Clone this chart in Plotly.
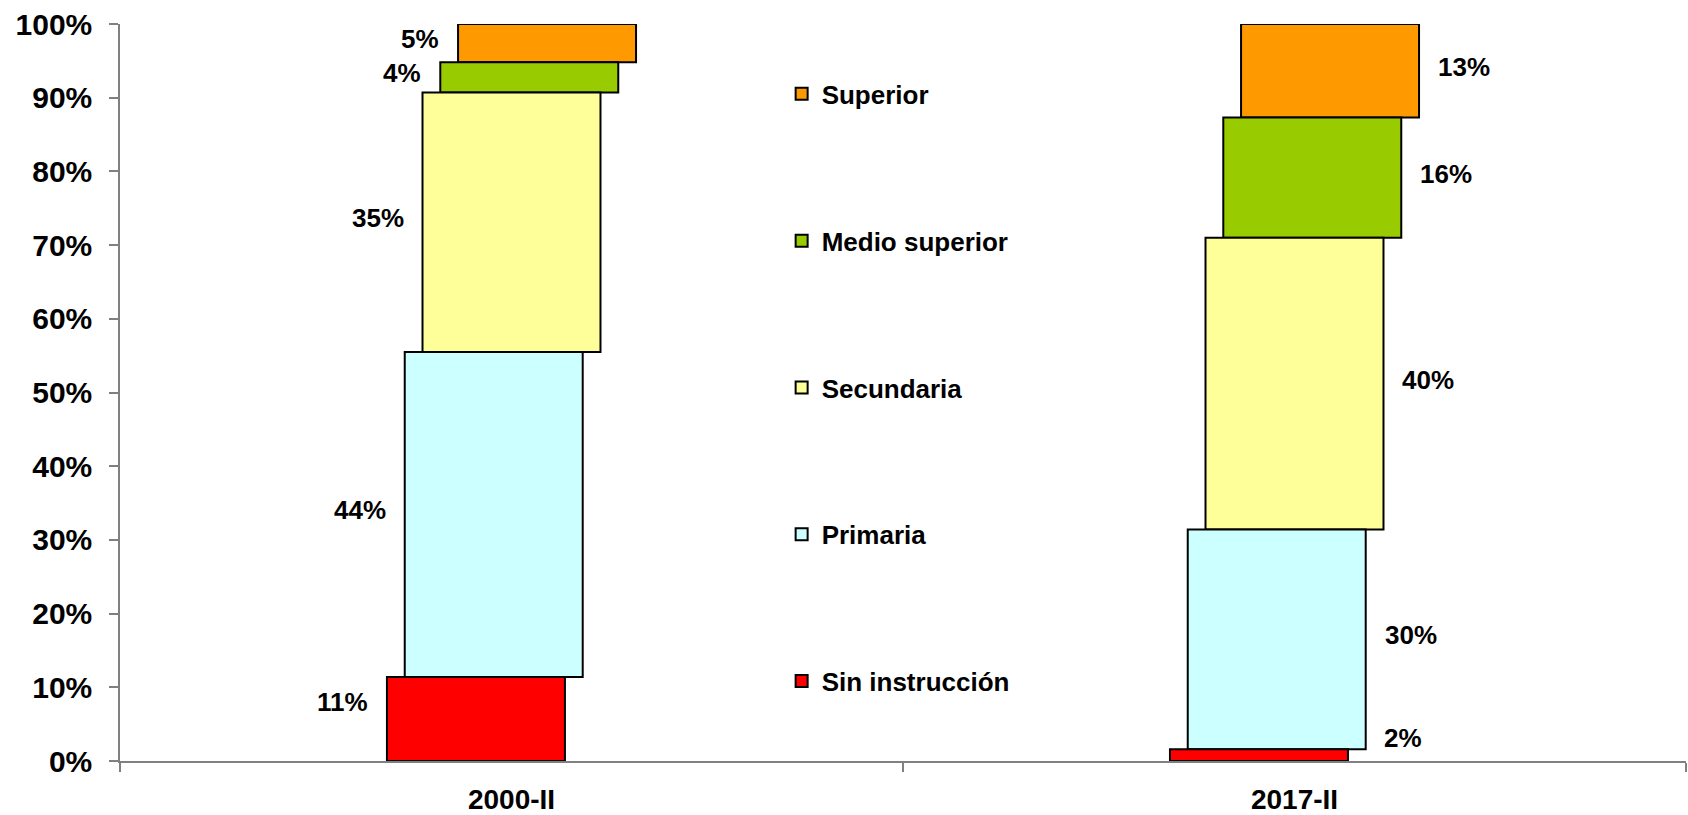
import plotly.graph_objects as go

categories = ["2000-II", "2017-II"]
series_names = ["Sin instrucción", "Primaria", "Secundaria", "Medio superior", "Superior"]
values_2000 = [11.4, 44.1, 35.2, 4.1, 5.2]
values_2017 = [1.6, 29.8, 39.6, 16.3, 12.7]
labels_2000 = ["11%", "44%", "35%", "4%", "5%"]
labels_2017 = ["2%", "30%", "40%", "16%", "13%"]
colors = ["#FF0000", "#CCFFFF", "#FFFF99", "#99CC00", "#FF9900"]
y_ticks = list(range(0, 101, 10))
y_ticktext = [f"{v}%" for v in y_ticks]

FONT = "Arial, Liberation Sans, sans-serif"
BAR_W = 0.2273
STEP = 0.0227
label_yshift = [17, 4, 4, 4, 4]
label_xshift = [[-17, -17, -17, -17, -17], [34, 17, 17, 17, 17]]

data = [values_2000, values_2017]
labels = [labels_2000, labels_2017]

fig = go.Figure()
annotations = []
for i in reversed(range(len(series_names))):
    name = series_names[i]
    off = (i - 2) * STEP
    xs, ys, bases = [], [], []
    for c in range(len(categories)):
        base = sum(data[c][:i])
        xs.append(c + off)
        ys.append(data[c][i])
        bases.append(base)
        side = -1 if c == 0 else 1
        annotations.append(dict(x=c + off + side * BAR_W / 2, y=base + data[c][i] / 2,
                                text=labels[c][i], showarrow=False,
                                xanchor="right" if c == 0 else "left",
                                xshift=label_xshift[c][i], yshift=label_yshift[i],
                                font=dict(family=FONT, size=26, color="black", weight="bold")))
    fig.add_trace(go.Bar(x=xs, y=ys, base=bases, width=BAR_W, name=name,
                         legendgroup=name,
                         marker=dict(color=colors[i], line=dict(color="black", width=2)),
                         hoverinfo="skip"))

fig.update_layout(
    width=1688, height=815,
    margin=dict(l=120, r=2, t=24, b=54),
    paper_bgcolor="white", plot_bgcolor="white",
    barmode="overlay",
    font=dict(family=FONT, color="black"),
    annotations=annotations,
    showlegend=True,
    legend=dict(x=0.4225, y=0.937, xanchor="left", yanchor="top",
                traceorder="grouped", tracegroupgap=110,
                font=dict(family=FONT, size=26, color="black", weight="bold"),
                bgcolor="rgba(0,0,0,0)", itemclick=False),
    xaxis=dict(range=[-0.5, 1.5], tickvals=[0, 1], ticktext=categories,
               ticks="", showgrid=False, zeroline=False, automargin=False,
               showline=True, linecolor="#808080", linewidth=1.5,
               tickfont=dict(family=FONT, size=28, color="black", weight="bold"),
               ticklabelstandoff=13,
               minor=dict(tickvals=[-0.5, 0.5, 1.5], ticks="outside", ticklen=9,
                          tickcolor="#808080", tickwidth=1.5, showgrid=False)),
    yaxis=dict(range=[0, 100], tickvals=y_ticks, ticktext=y_ticktext,
               ticks="outside", ticklen=9, tickcolor="#808080", tickwidth=1.5,
               showgrid=False, zeroline=False, automargin=False,
               showline=True, linecolor="#808080", linewidth=1.5,
               tickfont=dict(family=FONT, size=30, color="black", weight="bold"),
               ticklabelstandoff=11),
)

fig.write_html("out.html", config={"displayModeBar": False},
               post_script="document.body.style.margin='0';document.body.style.overflow='hidden';")
